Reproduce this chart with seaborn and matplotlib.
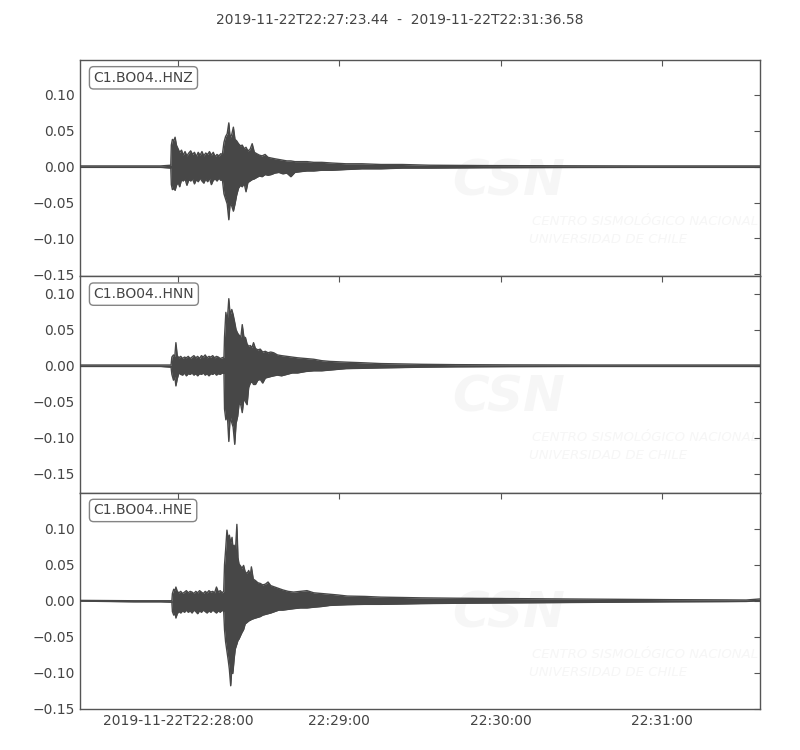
import pandas as pd
import matplotlib
matplotlib.use("Agg")
import matplotlib.pyplot as plt
import seaborn as sns

# --- data: envelope of each trace (seconds after start) ---
start = pd.Timestamp("2019-11-22 22:27:23.44")
end = pd.Timestamp("2019-11-22 22:31:36.58")
title = "2019-11-22T22:27:23.44  -  2019-11-22T22:31:36.58"

channels = ["C1.BO04..HNZ", "C1.BO04..HNN", "C1.BO04..HNE"]

t_z = [0, 10, 20, 30, 33.8, 34.0, 34.4, 34.9, 35.4, 35.9, 36.5, 37.1, 37.8, 38.4, 39.1,
       39.8, 40.5, 41.2, 41.9, 42.6, 43.3, 44.0, 44.7, 45.4, 46.1, 46.8, 47.5, 48.2, 48.9,
       49.6, 50.3, 51.0, 51.7, 52.4, 53.0, 53.6, 54.2, 54.8, 55.4, 55.9, 56.5, 57.1, 57.7,
       58.3, 59.0, 59.7, 60.4, 61.1, 61.8, 62.5, 63.3, 64.1, 64.9, 65.8, 66.8, 67.8, 68.9,
       70.0, 71.2, 72.5, 74.0, 75.5, 77.0, 78.5, 80.0, 82, 84.5, 87, 90, 94, 99, 105, 112,
       120, 130, 150, 180, 210, 240, 253.1]
hi_z = [0.001, 0.001, 0.001, 0.001, 0.002, 0.030, 0.038, 0.036, 0.041, 0.030, 0.025, 0.020,
        0.023, 0.016, 0.021, 0.015, 0.019, 0.022, 0.017, 0.020, 0.014, 0.020, 0.016, 0.021,
        0.015, 0.019, 0.017, 0.021, 0.016, 0.020, 0.014, 0.017, 0.015, 0.018, 0.017, 0.034,
        0.042, 0.046, 0.061, 0.040, 0.045, 0.055, 0.038, 0.036, 0.032, 0.029, 0.030, 0.025,
        0.027, 0.022, 0.024, 0.032, 0.020, 0.018, 0.016, 0.015, 0.017, 0.013, 0.012, 0.011,
        0.010, 0.009, 0.008, 0.008, 0.007, 0.007, 0.007, 0.006, 0.006, 0.005, 0.004, 0.004,
        0.003, 0.003, 0.002, 0.0015, 0.0012, 0.001, 0.001, 0.001]
lo_z = [-0.001, -0.001, -0.001, -0.001, -0.002, -0.025, -0.032, -0.030, -0.033, -0.026,
        -0.022, -0.028, -0.018, -0.020, -0.017, -0.026, -0.018, -0.020, -0.017, -0.024,
        -0.018, -0.021, -0.016, -0.020, -0.023, -0.017, -0.021, -0.016, -0.025, -0.019,
        -0.017, -0.020, -0.016, -0.019, -0.018, -0.038, -0.045, -0.052, -0.074, -0.050,
        -0.055, -0.062, -0.052, -0.040, -0.030, -0.026, -0.028, -0.023, -0.035, -0.022,
        -0.020, -0.018, -0.017, -0.015, -0.013, -0.014, -0.011, -0.012, -0.011, -0.009,
        -0.008, -0.010, -0.009, -0.014, -0.008, -0.007, -0.006, -0.006, -0.005, -0.005,
        -0.004, -0.003, -0.003, -0.002, -0.002, -0.0015, -0.0012, -0.001, -0.001, -0.001]

t_n = [0, 30, 33.9, 34.2, 34.8, 35.3, 35.7, 36.2, 36.8, 37.5, 38.2, 38.9, 39.6, 40.3, 41.0,
       41.7, 42.4, 43.1, 43.8, 44.5, 45.2, 45.9, 46.6, 47.3, 48.0, 48.7, 49.4, 50.1, 50.8,
       51.5, 52.2, 52.9, 53.6, 53.8, 54.3, 54.8, 55.4, 55.9, 56.5, 57.0, 57.6, 58.1, 58.7,
       59.3, 59.9, 60.4, 61.0, 61.6, 62.2, 62.8, 63.4, 64.0, 64.6, 65.3, 66.2, 67.1, 68.0,
       69.0, 70.0, 71.0, 72.1, 73.5, 75.0, 77.0, 79.0, 81.0, 84.0, 87.0, 90.0, 93.0, 99.0,
       106, 112, 120, 127, 140, 160, 190, 220, 253.1]
hi_n = [0.001, 0.001, 0.001, 0.012, 0.015, 0.013, 0.032, 0.014, 0.011, 0.013, 0.010, 0.012,
        0.011, 0.013, 0.010, 0.012, 0.014, 0.011, 0.013, 0.010, 0.014, 0.012, 0.015, 0.011,
        0.013, 0.012, 0.014, 0.011, 0.013, 0.012, 0.010, 0.011, 0.012, 0.040, 0.074, 0.060,
        0.093, 0.070, 0.078, 0.071, 0.060, 0.050, 0.045, 0.042, 0.040, 0.057, 0.040, 0.039,
        0.030, 0.027, 0.028, 0.025, 0.032, 0.024, 0.022, 0.023, 0.019, 0.020, 0.018, 0.019,
        0.018, 0.015, 0.014, 0.013, 0.012, 0.011, 0.010, 0.009, 0.007, 0.006, 0.005, 0.004,
        0.003, 0.0025, 0.002, 0.0015, 0.0012, 0.001, 0.001, 0.001]
lo_n = [-0.001, -0.001, -0.002, -0.012, -0.020, -0.015, -0.028, -0.018, -0.010, -0.012,
        -0.013, -0.010, -0.014, -0.011, -0.012, -0.010, -0.013, -0.011, -0.014, -0.011,
        -0.012, -0.010, -0.013, -0.011, -0.014, -0.011, -0.012, -0.010, -0.013, -0.011,
        -0.012, -0.010, -0.011, -0.060, -0.075, -0.065, -0.105, -0.070, -0.079, -0.085,
        -0.109, -0.080, -0.070, -0.050, -0.055, -0.065, -0.045, -0.050, -0.054, -0.030,
        -0.024, -0.022, -0.026, -0.026, -0.020, -0.019, -0.024, -0.017, -0.016, -0.015,
        -0.014, -0.013, -0.014, -0.012, -0.010, -0.010, -0.008, -0.007, -0.007, -0.006,
        -0.004, -0.0035, -0.003, -0.0025, -0.002, -0.0015, -0.0012, -0.001, -0.001, -0.001]

t_e = [0, 20, 30, 34.2, 34.4, 34.9, 35.4, 35.7, 36.2, 36.8, 37.5, 38.2, 38.9, 39.6, 40.3,
       41.0, 41.7, 42.4, 43.1, 43.8, 44.5, 45.2, 45.9, 46.6, 47.3, 48.0, 48.7, 49.4, 50.1,
       50.8, 51.5, 52.2, 52.9, 53.5, 53.8, 54.2, 54.7, 55.2, 55.6, 56.1, 56.6, 56.9, 57.4,
       57.8, 58.4, 58.8, 59.2, 59.8, 60.3, 60.9, 61.5, 62.2, 62.8, 63.4, 63.8, 64.5, 65.3,
       66.2, 67.1, 68.0, 69.0, 70.0, 71.0, 72.5, 74.0, 75.5, 77.5, 79.5, 82.0, 84.5, 87.0,
       90.0, 93.0, 96.0, 99.5, 106, 112, 120, 127, 140, 160, 180, 200, 220, 240, 248, 253.1]
hi_e = [0.0005, 0.0, 0.0, 0.0, 0.010, 0.016, 0.014, 0.019, 0.013, 0.011, 0.013, 0.010,
        0.012, 0.014, 0.011, 0.013, 0.012, 0.010, 0.013, 0.011, 0.014, 0.012, 0.010, 0.013,
        0.011, 0.014, 0.012, 0.013, 0.011, 0.019, 0.012, 0.014, 0.011, 0.013, 0.050, 0.070,
        0.098, 0.085, 0.091, 0.080, 0.088, 0.075, 0.077, 0.065, 0.106, 0.060, 0.051, 0.048,
        0.045, 0.049, 0.040, 0.038, 0.042, 0.035, 0.047, 0.030, 0.028, 0.025, 0.024, 0.022,
        0.023, 0.026, 0.021, 0.019, 0.017, 0.015, 0.013, 0.012, 0.013, 0.014, 0.011, 0.010,
        0.009, 0.008, 0.0065, 0.006, 0.005, 0.0045, 0.004, 0.0035, 0.003, 0.0025, 0.002,
        0.0015, 0.0012, 0.001, 0.0025]
lo_e = [-0.0005, -0.0015, -0.0015, -0.002, -0.015, -0.020, -0.017, -0.024, -0.018, -0.015,
        -0.017, -0.014, -0.016, -0.013, -0.016, -0.014, -0.017, -0.013, -0.015, -0.018,
        -0.014, -0.016, -0.013, -0.015, -0.017, -0.014, -0.016, -0.013, -0.015, -0.017,
        -0.014, -0.016, -0.013, -0.015, -0.040, -0.057, -0.070, -0.083, -0.095, -0.118,
        -0.090, -0.101, -0.080, -0.067, -0.060, -0.055, -0.053, -0.048, -0.044, -0.040,
        -0.032, -0.030, -0.028, -0.027, -0.026, -0.025, -0.024, -0.023, -0.022, -0.020,
        -0.019, -0.018, -0.017, -0.015, -0.013, -0.013, -0.012, -0.011, -0.010, -0.010,
        -0.009, -0.008, -0.0065, -0.006, -0.0055, -0.005, -0.005, -0.0045, -0.004, -0.0035,
        -0.003, -0.0025, -0.002, -0.0015, -0.0012, -0.001, 0.0]

ylims = [(-0.1528, 0.1486), (-0.176, 0.124), (-0.1502, 0.150)]
yticks = [-0.15, -0.10, -0.05, 0.00, 0.05, 0.10]
tick_times = ["2019-11-22 22:28:00", "2019-11-22 22:29:00", "2019-11-22 22:30:00", "2019-11-22 22:31:00"]
tick_labels = ["2019-11-22T22:28:00", "22:29:00", "22:30:00", "22:31:00"]

traces = [(t_z, hi_z, lo_z), (t_n, hi_n, lo_n), (t_e, hi_e, lo_e)]

# --- plot ---
sns.set_style("white")
plt.rcParams['font.family'] = ['DejaVu Sans']
plt.rcParams['axes.edgecolor'] = '#555555'
plt.rcParams['text.color'] = '#444444'
plt.rcParams['xtick.color'] = '#555555'
plt.rcParams['ytick.color'] = '#555555'
plt.rcParams['xtick.labelcolor'] = '#444444'
plt.rcParams['ytick.labelcolor'] = '#444444'

trace_color = '#474747'
mark_color = '#f6f6f6'

fig, axes = plt.subplots(3, 1, figsize=(8, 7.5), dpi=100, sharex=True)
fig.subplots_adjust(left=0.1, right=0.95, top=0.92, bottom=0.0547, hspace=0)

for ax, name, (t, hi, lo), yl in zip(axes, channels, traces, ylims):
    times = start + pd.to_timedelta(t, unit="s")
    df = pd.DataFrame({"time": times, "hi": hi, "lo": lo})

    # faint watermark
    ax.text(0.63, 0.44, "CSN", transform=ax.transAxes, fontsize=36, fontweight='bold',
            fontstyle='italic', color=mark_color, ha='center', va='center', zorder=0)
    ax.text(0.665, 0.253, "CENTRO SISMOLÓGICO NACIONAL", transform=ax.transAxes,
            fontsize=9.5, fontstyle='italic', color=mark_color, ha='left', va='center', zorder=0)
    ax.text(0.66, 0.17, "UNIVERSIDAD DE CHILE", transform=ax.transAxes,
            fontsize=9.5, fontstyle='italic', color=mark_color, ha='left', va='center', zorder=0)

    ax.fill_between(df["time"], df["lo"], df["hi"], color=trace_color, lw=0, zorder=2)
    sns.lineplot(data=df, x="time", y="hi", ax=ax, color=trace_color, lw=1, estimator=None, zorder=3)
    sns.lineplot(data=df, x="time", y="lo", ax=ax, color=trace_color, lw=1, estimator=None, zorder=3)

    ax.set_xlim(start, end)
    ax.set_ylim(*yl)
    ax.set_yticks(yticks)
    ax.set_yticklabels([f"{v:.2f}".replace("-", "\u2212") for v in yticks], fontsize=10)
    ax.set_xlabel("")
    ax.set_ylabel("")
    ax.tick_params(direction='in', top=True, right=True, length=4, width=0.8)
    for s in ax.spines.values():
        s.set_linewidth(1.0)

    ax.text(0.02, 0.95, name, transform=ax.transAxes, fontsize=10, ha='left', va='top',
            color='#444444', zorder=5,
            bbox=dict(boxstyle="round", fc="w", ec="#666666", alpha=0.8))

axes[-1].set_xticks(pd.to_datetime(tick_times), tick_labels, fontsize=10)

fig.suptitle(title, fontsize=10, y=0.982, color='#444444')

plt.savefig("out.png", dpi=100)
